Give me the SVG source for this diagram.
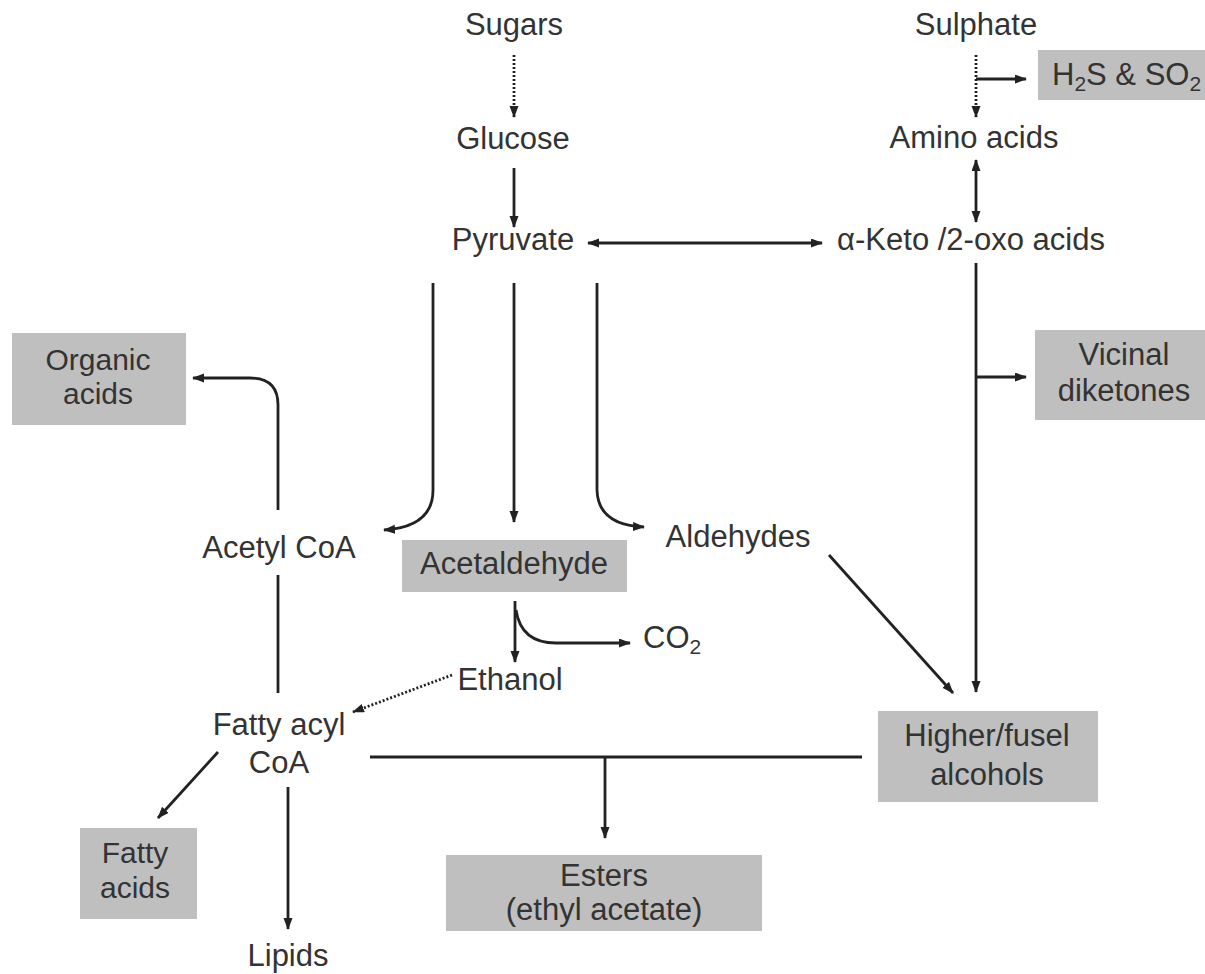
<svg xmlns="http://www.w3.org/2000/svg" width="1205" height="974" viewBox="0 0 1205 974">
<style>
text{font-family:"Liberation Sans",Arial,sans-serif;font-size:31px;fill:#333;text-anchor:middle}
.two{font-size:30px}
.box{fill:#bfbfbf}
.c{fill:none;stroke:#222;stroke-width:2.8}
.d{stroke-dasharray:2 2}
</style>
<defs>
<marker id="ah" markerUnits="userSpaceOnUse" markerWidth="12" markerHeight="10" refX="11" refY="4.5" orient="auto-start-reverse">
<path d="M0,0 L12,4.5 L0,9 z" fill="#222"/>
</marker>
</defs>
<rect width="1205" height="974" fill="#fff"/>

<g id="connectors">
<path class="c d" d="M514,55 V117" marker-end="url(#ah)"/>
<path class="c" d="M514,168 V227" marker-end="url(#ah)"/>
<path class="c" d="M588,243 H822" marker-start="url(#ah)" marker-end="url(#ah)"/>
<path class="c d" d="M976,55 V117" marker-end="url(#ah)"/>
<path class="c" d="M976,79 H1026" marker-end="url(#ah)"/>
<path class="c" d="M976,160 V222" marker-start="url(#ah)" marker-end="url(#ah)"/>
<path class="c" d="M976,263 V692" marker-end="url(#ah)"/>
<path class="c" d="M976,377 H1026" marker-end="url(#ah)"/>
<path class="c" d="M433,283 V490 Q433,527 384,530" marker-end="url(#ah)"/>
<path class="c" d="M514,283 V522" marker-end="url(#ah)"/>
<path class="c" d="M597,283 V490 Q598,525 644,527" marker-end="url(#ah)"/>
<path class="c" d="M278,510 V405 Q278,378 250,378 H193" marker-end="url(#ah)"/>
<path class="c" d="M278,575 V693"/>
<path class="c" d="M515,601 V662" marker-end="url(#ah)"/>
<path class="c" d="M516,610 Q521,643 556,643 H630" marker-end="url(#ah)"/>
<path class="c d" d="M452,675 L353,712" marker-end="url(#ah)"/>
<path class="c" d="M829,555 L953,693" marker-end="url(#ah)"/>
<path class="c" d="M218,752 L158,818" marker-end="url(#ah)"/>
<path class="c" d="M288,787 V929" marker-end="url(#ah)"/>
<path class="c" d="M370,757 H862"/>
<path class="c" d="M605,757 V838" marker-end="url(#ah)"/>
</g>

<g id="sugars"><text x="514" y="35">Sugars</text></g>
<g id="glucose"><text x="513" y="149">Glucose</text></g>
<g id="pyruvate"><text x="513" y="250">Pyruvate</text></g>
<g id="sulphate"><text x="976" y="35">Sulphate</text></g>
<g id="h2s"><rect class="box" x="1038" y="50" width="180" height="50"/><text x="1052" y="85" style="text-anchor:start">H<tspan font-size="21" dy="6">2</tspan><tspan dy="-6">S &amp; SO</tspan><tspan font-size="21" dy="6">2</tspan></text></g>
<g id="amino"><text x="974" y="148">Amino acids</text></g>
<g id="keto"><text x="971" y="250">α-Keto /2-oxo acids</text></g>
<g id="organic"><rect class="box" x="12" y="333" width="174" height="92"/><text class="two" x="98" y="370">Organic</text><text class="two" x="98" y="404">acids</text></g>
<g id="vicinal"><rect class="box" x="1035" y="330" width="180" height="90"/><text x="1124" y="365">Vicinal</text><text x="1124" y="401">diketones</text></g>
<g id="acetylcoa"><text x="279" y="558">Acetyl CoA</text></g>
<g id="acetaldehyde"><rect class="box" x="402" y="540" width="225" height="52"/><text x="514" y="574">Acetaldehyde</text></g>
<g id="aldehydes"><text x="738" y="547">Aldehydes</text></g>
<g id="co2"><text x="643" y="648" style="text-anchor:start">CO<tspan font-size="21" dy="6">2</tspan></text></g>
<g id="ethanol"><text x="510" y="690">Ethanol</text></g>
<g id="fattyacyl"><text x="279" y="735">Fatty acyl</text><text x="279" y="773">CoA</text></g>
<g id="fusel"><rect class="box" x="878" y="711" width="220" height="91"/><text x="987" y="746">Higher/fusel</text><text x="987" y="785">alcohols</text></g>
<g id="fattyacids"><rect class="box" x="80" y="828" width="117" height="91"/><text class="two" x="135" y="863">Fatty</text><text class="two" x="135" y="898">acids</text></g>
<g id="esters"><rect class="box" x="446" y="855" width="316" height="76"/><text x="604" y="886">Esters</text><text x="604" y="920">(ethyl acetate)</text></g>
<g id="lipids"><text x="288" y="966">Lipids</text></g>
</svg>
